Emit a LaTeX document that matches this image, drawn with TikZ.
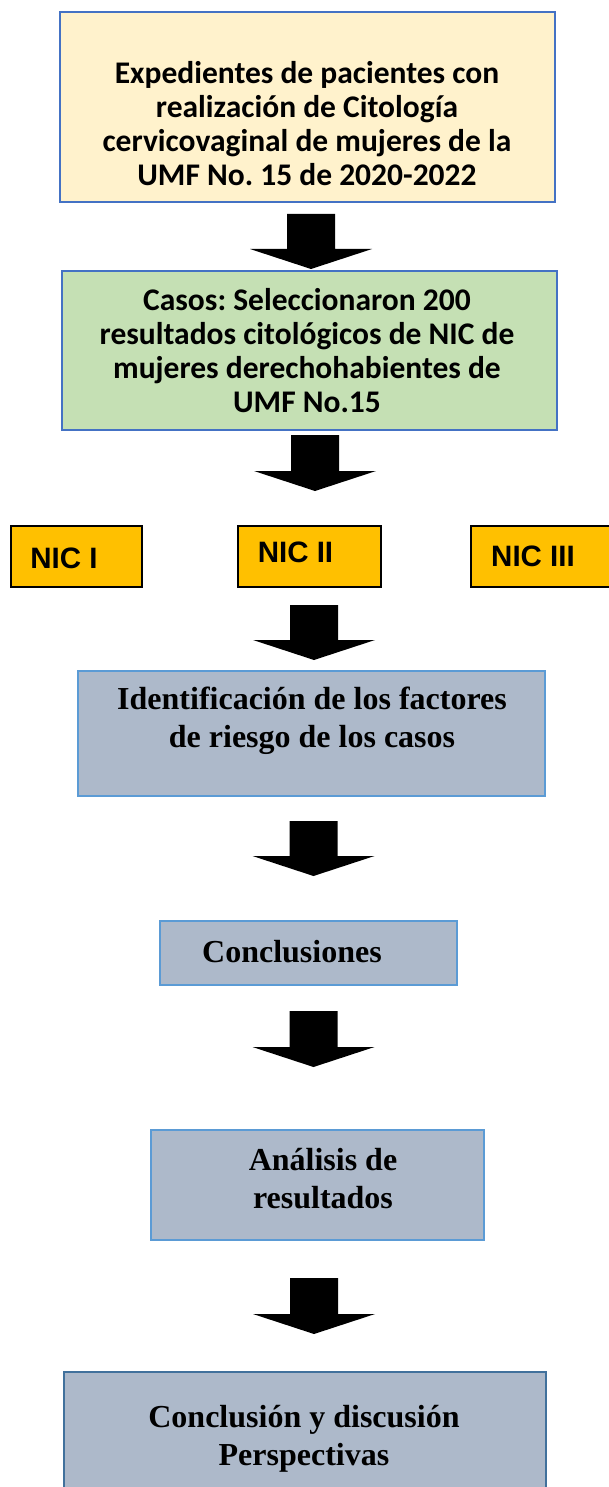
\documentclass[tikz,border=0pt]{standalone}
\usepackage{fontspec}
\usepackage{xcolor}
\usetikzlibrary{calc}
\newfontfamily\calibrifont{Carlito}
\newfontfamily\arialfont{Liberation Sans}
\newfontfamily\timesfont{Liberation Serif}
\definecolor{creambg}{HTML}{FFF2CC}
\definecolor{greenbg}{HTML}{C5E0B4}
\definecolor{nicorange}{HTML}{FFC000}
\definecolor{greybg}{HTML}{ADB9CA}
\definecolor{framedark}{HTML}{4472C4}
\definecolor{framelight}{HTML}{5B9BD5}
\definecolor{framesteel}{HTML}{41719C}
\frenchspacing
\newcommand{\fatarrow}[2]{%
    \fill let \p1=(#1), \p2=(#2) in
        (\x1-24,\y1) -- (\x1+24,\y1) -- (\x1+24,\y2+20) -- (\x1+61,\y2+20)
        -- (\x1,\y2) -- (\x1-61,\y2+20) -- (\x1-24,\y2+20) -- cycle;}
\tikzset{
    framebox/.style={draw=framedark, line width=2.5pt, inner sep=0pt},
    nicbox/.style={draw=black, fill=nicorange, line width=1.5pt, minimum height=61pt, inner sep=0pt},
    greybox/.style={draw=framelight, fill=greybg, line width=2pt, inner sep=0pt},
    calibritext/.style={font=\calibrifont\bfseries\fontsize{31.5}{34}\selectfont, align=center, inner sep=0pt},
    timestext/.style={font=\timesfont\bfseries\fontsize{32}{38}\selectfont, align=center, inner sep=0pt},
    nictext/.style={font=\arialfont\bfseries\fontsize{29.5}{34}\selectfont, inner sep=0pt}
}
\begin{document}
\begin{tikzpicture}[x=1pt, y=-1pt]

                \clip (0,0) rectangle (609,1487);
                \fill[white] (0,0) rectangle (609,1487);

                \node[framebox, fill=creambg, minimum width=495pt, minimum height=190pt] (expedientes) at (307.5,107) {};
                \node[calibritext] (expedientestxt) at (307,124) {Expedientes de pacientes con\\realización de Citología\\cervicovaginal de mujeres de la\\UMF No. 15 de 2020-2022};

                \node[framebox, fill=greenbg, minimum width=495pt, minimum height=159pt] (casos) at (309.5,350.5) {};
                \node[calibritext] (casostxt) at (307,351) {Casos: Seleccionaron 200\\resultados citológicos de NIC de\\mujeres derechohabientes de\\UMF No.15};

                \node[nicbox, minimum width=131pt] (nicone) at (76.5,556.5) {};
                \node[nictext] (niconetxt) at (64,558) {NIC I};
                \node[nicbox, minimum width=143pt] (nictwo) at (309.5,556.5) {};
                \node[nictext] (nictwotxt) at (295.5,552) {NIC II};
                \node[nicbox, minimum width=140pt] (nicthree) at (541,556.5) {};
                \node[nictext] (nicthreetxt) at (533,556) {NIC III};

                \node[greybox, minimum width=467pt, minimum height=125pt] (factores) at (311.5,733.5) {};
                \node[timestext] (factorestxt) at (312,721) {Identificación de los factores\\de riesgo de los casos};

                \node[greybox, minimum width=297pt, minimum height=64pt] (conclusiones) at (308.5,953) {};
                \node[timestext] (conclusionestxt) at (292,952) {Conclusiones};

                \node[greybox, minimum width=333pt, minimum height=110pt] (analisis) at (317.5,1185) {};
                \node[timestext] (analisistxt) at (323,1179) {Análisis de\\resultados};

                \node[greybox, draw=framesteel, minimum width=482pt, minimum height=128pt] (discusion) at (305,1436) {};
                \node[timestext] (discusiontxt) at (304,1439) {Conclusión y discusión\\Perspectivas};

                \coordinate (a1s) at (311,214);   \coordinate (a1e) at (311,269);
                \coordinate (a2s) at (315,435);   \coordinate (a2e) at (315,491);
                \coordinate (a3s) at (314,605);   \coordinate (a3e) at (314,660);
                \coordinate (a4s) at (313.5,821); \coordinate (a4e) at (313.5,876);
                \coordinate (a5s) at (313.5,1011);\coordinate (a5e) at (313.5,1067);
                \coordinate (a6s) at (314,1278);  \coordinate (a6e) at (314,1334);
                \foreach \i in {1,...,6} {\fatarrow{a\i s}{a\i e}}

\end{tikzpicture}
\end{document}
